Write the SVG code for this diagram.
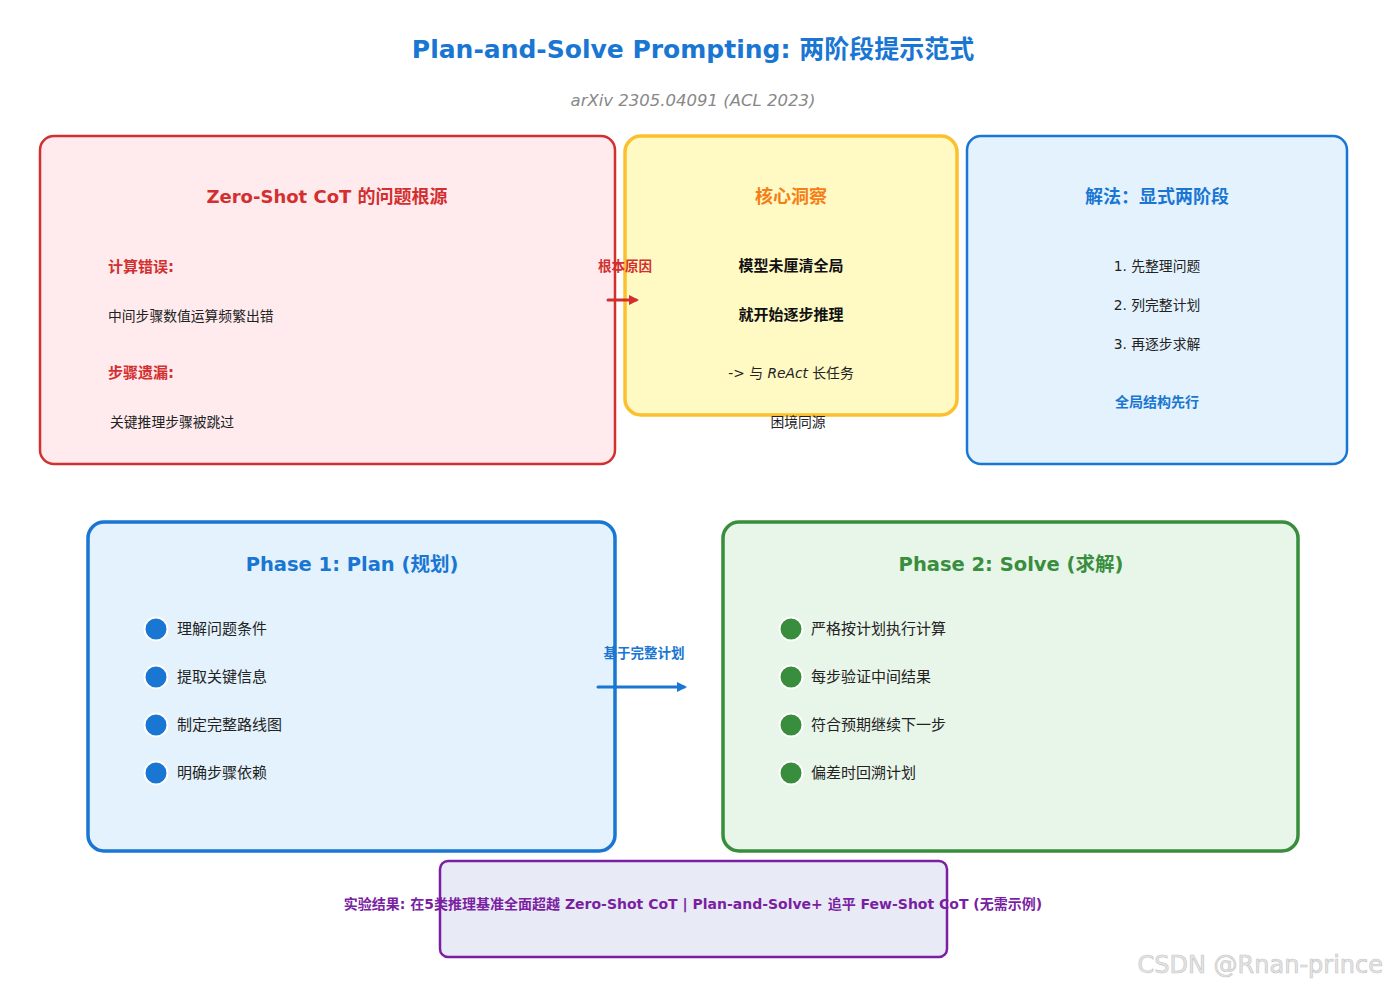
<svg xmlns="http://www.w3.org/2000/svg" width="1387" height="987" viewBox="0 0 1387 987">
<style>
text{font-family:"DejaVu Sans","Noto Sans CJK SC",sans-serif;}
.ttl{font-size:18px;font-weight:bold;text-anchor:middle;}
.body{font-size:13.8px;fill:#222;}
.lbl{font-size:15px;font-weight:bold;fill:#d32f2f;}
.bul{font-size:15px;fill:#222;}
.dotb{fill:#1976d2;stroke:#fff;stroke-width:2;}
.dotg{fill:#388e3c;stroke:#fff;stroke-width:2;}
</style>
<defs>
<marker id="ar" viewBox="0 0 10 10" refX="7" refY="5" markerWidth="3.4" markerHeight="3.4" orient="auto" markerUnits="strokeWidth"><path d="M0,0 L10,5 L0,10 z" fill="#d32f2f"/></marker>
<marker id="ab" viewBox="0 0 10 10" refX="7" refY="5" markerWidth="3.4" markerHeight="3.4" orient="auto" markerUnits="strokeWidth"><path d="M0,0 L10,5 L0,10 z" fill="#1976d2"/></marker>
</defs>
<rect width="1387" height="987" fill="#fff"/>
<text x="693" y="58" font-size="25" font-weight="bold" fill="#1976d2" text-anchor="middle">Plan-and-Solve Prompting: 两阶段提示范式</text>
<text x="693" y="106" font-size="16.5" font-style="italic" fill="#888" text-anchor="middle">arXiv 2305.04091 (ACL 2023)</text>

<g id="problem">
<rect x="40" y="136" width="575" height="328" rx="14" fill="#ffebee" stroke="#d32f2f" stroke-width="2.5"/>
<text class="ttl" x="327" y="203" fill="#d32f2f">Zero-Shot CoT 的问题根源</text>
<text class="lbl" x="108" y="272">计算错误:</text>
<text class="body" x="108" y="321">中间步骤数值运算频繁出错</text>
<text class="lbl" x="108" y="378">步骤遗漏:</text>
<text class="body" x="110" y="427">关键推理步骤被跳过</text>
</g>

<g id="insight">
<rect x="625" y="136" width="332" height="279" rx="16" fill="#fff9c4" stroke="#fbc02d" stroke-width="3.5"/>
<text class="ttl" x="791" y="203" fill="#f57f17">核心洞察</text>
<text x="791" y="271" font-size="15" font-weight="bold" fill="#111" text-anchor="middle">模型未厘清全局</text>
<text x="791" y="320" font-size="15" font-weight="bold" fill="#111" text-anchor="middle">就开始逐步推理</text>
<text class="body" x="791" y="378" text-anchor="middle" fill="#111">-&gt; 与 <tspan font-style="italic">ReAct</tspan> 长任务</text>
<text class="body" x="798" y="427" text-anchor="middle" fill="#111">困境同源</text>
</g>

<g id="solution">
<rect x="967" y="136" width="380" height="328" rx="14" fill="#e3f2fd" stroke="#1976d2" stroke-width="2.5"/>
<text class="ttl" x="1157" y="203" fill="#1976d2">解法：显式两阶段</text>
<text class="body" x="1157" y="271" text-anchor="middle" fill="#111">1. 先整理问题</text>
<text class="body" x="1157" y="310" text-anchor="middle" fill="#111">2. 列完整计划</text>
<text class="body" x="1157" y="349" text-anchor="middle" fill="#111">3. 再逐步求解</text>
<text x="1157" y="407" font-size="14" font-weight="bold" fill="#1976d2" text-anchor="middle">全局结构先行</text>
</g>

<g id="phase1">
<rect x="88" y="522" width="527" height="329" rx="16" fill="#e3f2fd" stroke="#1976d2" stroke-width="3.5"/>
<text x="352" y="571" font-size="19.5" font-weight="bold" fill="#1976d2" text-anchor="middle">Phase 1: Plan (规划)</text>
<circle class="dotb" cx="156" cy="629" r="11.5"/>
<text class="bul" x="177" y="634">理解问题条件</text>
<circle class="dotb" cx="156" cy="677" r="11.5"/>
<text class="bul" x="177" y="682">提取关键信息</text>
<circle class="dotb" cx="156" cy="725" r="11.5"/>
<text class="bul" x="177" y="730">制定完整路线图</text>
<circle class="dotb" cx="156" cy="773" r="11.5"/>
<text class="bul" x="177" y="778">明确步骤依赖</text>
</g>

<g id="phase2">
<rect x="723" y="522" width="575" height="329" rx="16" fill="#e8f5e9" stroke="#388e3c" stroke-width="3.5"/>
<text x="1011" y="571" font-size="19.5" font-weight="bold" fill="#388e3c" text-anchor="middle">Phase 2: Solve (求解)</text>
<circle class="dotg" cx="791" cy="629" r="11.5"/>
<text class="bul" x="811" y="634">严格按计划执行计算</text>
<circle class="dotg" cx="791" cy="677" r="11.5"/>
<text class="bul" x="811" y="682">每步验证中间结果</text>
<circle class="dotg" cx="791" cy="725" r="11.5"/>
<text class="bul" x="811" y="730">符合预期继续下一步</text>
<circle class="dotg" cx="791" cy="773" r="11.5"/>
<text class="bul" x="811" y="778">偏差时回溯计划</text>
</g>

<g id="result">
<rect x="440" y="861" width="507" height="96" rx="8" fill="#e8eaf6" stroke="#7b1fa2" stroke-width="2.5"/>
<text x="693" y="909" font-size="14" font-weight="bold" fill="#7b1fa2" text-anchor="middle">实验结果: 在5类推理基准全面超越 Zero-Shot CoT | Plan-and-Solve+ 追平 Few-Shot CoT (无需示例)</text>
</g>

<g id="connectors">
<line x1="608" y1="300" x2="636" y2="300" stroke="#d32f2f" stroke-width="3" stroke-linecap="round" marker-end="url(#ar)"/>
<text x="625" y="271" font-size="13.5" font-weight="bold" fill="#d32f2f" text-anchor="middle">根本原因</text>
<line x1="598" y1="687" x2="684" y2="687" stroke="#1976d2" stroke-width="3" stroke-linecap="round" marker-end="url(#ab)"/>
<text x="644" y="658" font-size="13.5" font-weight="bold" fill="#1976d2" text-anchor="middle">基于完整计划</text>
</g>

<text x="1383" y="973" font-family="Liberation Sans, Arial, sans-serif" font-size="24" fill="#e6e6e6" stroke="#c4c4c4" stroke-width="0.6" text-anchor="end">CSDN @Rnan-prince</text>
</svg>
